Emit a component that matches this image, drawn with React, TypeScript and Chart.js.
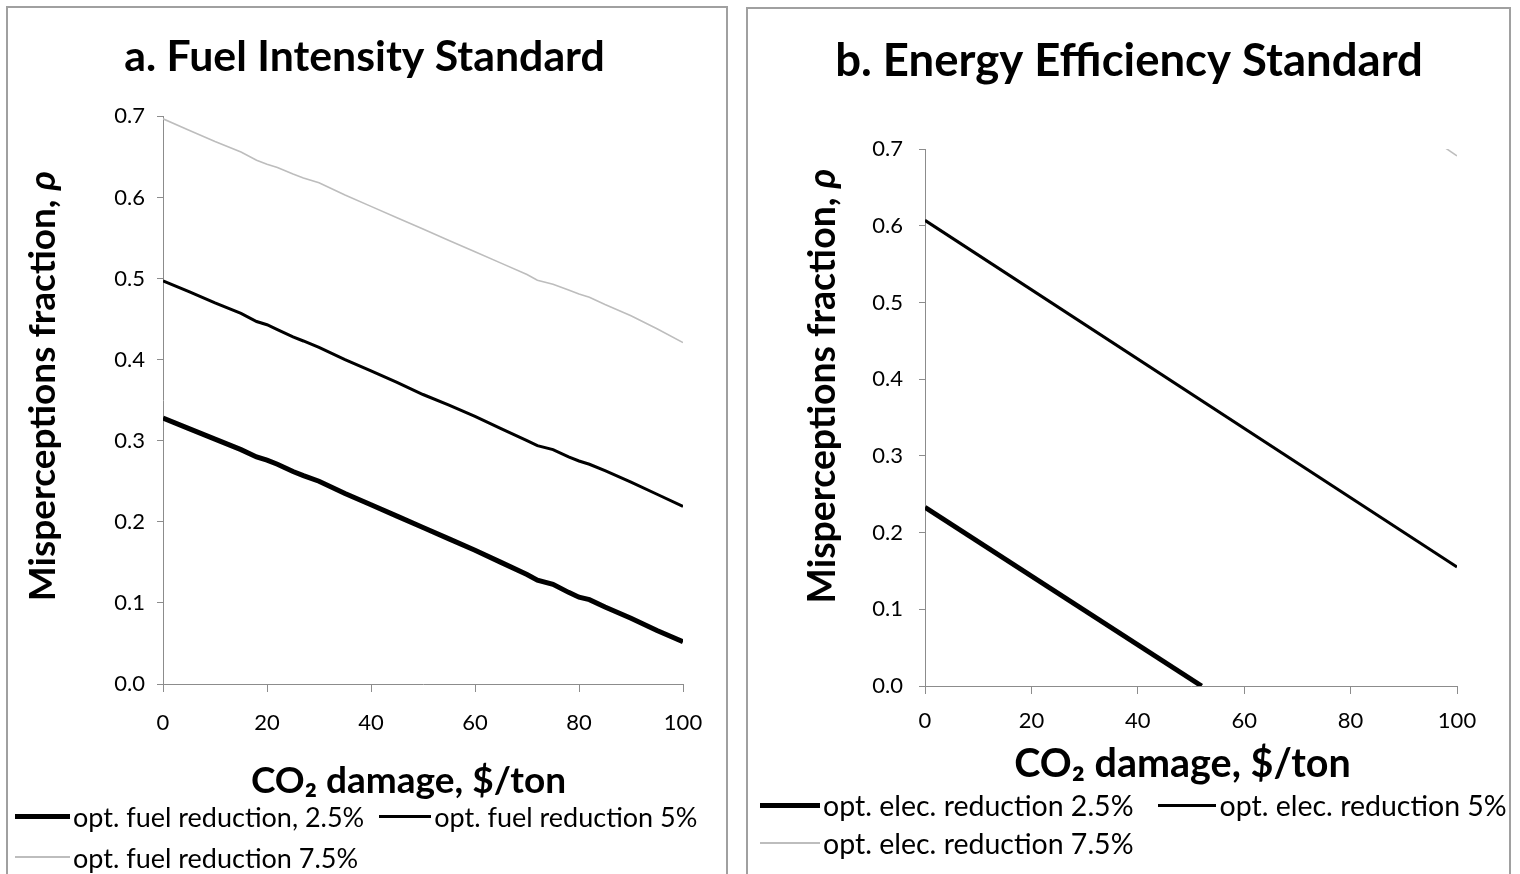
import React, { useEffect, useRef } from "react";
import { Chart, registerables } from "chart.js";
Chart.register(...registerables);

// ---- data ----
const fuelX = [0, 5, 10, 15, 18, 20, 22, 25, 27, 30, 35, 40, 45, 50, 55, 60, 65, 70, 72, 75, 78, 80, 82, 85, 90, 95, 100];
const fuel25 = [0.328, 0.315, 0.302, 0.289, 0.280, 0.276, 0.271, 0.262, 0.257, 0.250, 0.235, 0.221, 0.207, 0.193, 0.179, 0.165, 0.150, 0.135, 0.128, 0.123, 0.113, 0.107, 0.104, 0.095, 0.081, 0.066, 0.052];
const fuel5 = [0.497, 0.484, 0.470, 0.457, 0.447, 0.443, 0.437, 0.428, 0.423, 0.415, 0.400, 0.386, 0.372, 0.357, 0.344, 0.330, 0.315, 0.300, 0.294, 0.289, 0.280, 0.275, 0.271, 0.263, 0.249, 0.234, 0.219];
const fuel75 = [0.697, 0.683, 0.669, 0.656, 0.646, 0.641, 0.637, 0.629, 0.624, 0.618, 0.603, 0.589, 0.575, 0.561, 0.547, 0.533, 0.519, 0.505, 0.498, 0.493, 0.486, 0.481, 0.477, 0.468, 0.454, 0.438, 0.421];

const elecX25 = [0, 52];
const elec25 = [0.233, 0.0];
const elecX5 = [0, 100];
const elec5 = [0.607, 0.155];
const elecX75 = [96, 100];
const elec75 = [0.71, 0.691];

const fuelLabels = ["opt. fuel reduction, 2.5%", "opt. fuel reduction 5%", "opt. fuel reduction 7.5%"];
const elecLabels = ["opt. elec. reduction 2.5%", "opt. elec. reduction 5%", "opt. elec. reduction 7.5%"];
const titles = ["a. Fuel Intensity Standard", "b. Energy Efficiency Standard"];
const xTitle = "CO\u2082 damage, $/ton";
const yTitleMain = "Misperceptions fraction, ";
const yTitleSym = "\u03C1";

const FONT = "Lato, 'Liberation Sans', sans-serif";
const colors = ["#000000", "#000000", "#bdbdbd"];
const widths = [5, 3, 1.6];

function pts(xs: number[], ys: number[]) {
  return xs.map((x, i) => ({ x, y: ys[i] }));
}

type PanelCfg = {
  title: string;
  series: { x: number[]; y: number[] }[];
  width: number;
  height: number;
  padLeft: number;
  yAxisWidth: number;
  xAxisHeight: number;
  padRight: number;
  titleSize: number;
  titlePadTop: number;
  titlePadBottom: number;
  xTitleSize: number;
  yTitleSize: number;
  xTitlePos: [number, number];
  yTitlePos: [number, number];
  yTickPad: number;
  xTickPad: number;
};

function drawParts(ctx: CanvasRenderingContext2D, parts: { t: string; font: string }[], cx: number, cy: number) {
  let total = 0;
  const ws = parts.map((p) => {
    ctx.font = p.font;
    const w = ctx.measureText(p.t).width;
    total += w;
    return w;
  });
  let x = cx - total / 2;
  parts.forEach((p, i) => {
    ctx.font = p.font;
    ctx.fillText(p.t, x, cy);
    x += ws[i];
  });
}

function ChartPanel({ cfg }: { cfg: PanelCfg }) {
  const ref = useRef<HTMLCanvasElement>(null);
  useEffect(() => {
    if (!ref.current) return;
    const axisTitles = {
      id: "axisTitles",
      afterDraw(chart: any) {
        const ctx: CanvasRenderingContext2D = chart.ctx;
        ctx.save();
        ctx.fillStyle = "#000";
        ctx.textAlign = "left";
        ctx.textBaseline = "middle";
        // x-axis title
        drawParts(ctx, [{ t: xTitle, font: `bold ${cfg.xTitleSize}px ${FONT}` }], cfg.xTitlePos[0], cfg.xTitlePos[1]);
        // y-axis title (rotated)
        ctx.translate(cfg.yTitlePos[0], cfg.yTitlePos[1]);
        ctx.rotate(-Math.PI / 2);
        drawParts(
          ctx,
          [
            { t: yTitleMain, font: `bold ${cfg.yTitleSize}px ${FONT}` },
            { t: yTitleSym, font: `italic bold ${cfg.yTitleSize}px ${FONT}` },
          ],
          0,
          0
        );
        ctx.restore();
      },
    };
    const chart = new Chart(ref.current, {
      type: "line",
      data: {
        datasets: cfg.series.map((s, i) => ({
          data: pts(s.x, s.y),
          borderColor: colors[i],
          borderWidth: widths[i],
          pointRadius: 0,
          tension: 0,
          fill: false,
        })),
      },
      options: {
        animation: false,
        responsive: false,
        devicePixelRatio: 1,
        layout: { padding: { left: cfg.padLeft, right: cfg.padRight, top: 0, bottom: 0 } },
        plugins: {
          legend: { display: false },
          tooltip: { enabled: false },
          title: {
            display: true,
            text: cfg.title,
            color: "#000",
            font: { family: FONT, size: cfg.titleSize, weight: "bold", lineHeight: 1.2 },
            padding: { top: cfg.titlePadTop, bottom: cfg.titlePadBottom },
          },
        },
        scales: {
          x: {
            type: "linear",
            min: 0,
            max: 100,
            afterFit: (s: any) => {
              s.height = cfg.xAxisHeight;
            },
            ticks: {
              stepSize: 20,
              color: "#000",
              font: { family: FONT, size: 22 },
              padding: cfg.xTickPad,
              maxRotation: 0,
            },
            grid: { drawOnChartArea: false, drawTicks: true, tickLength: 8, color: "#8c8c8c" },
            border: { color: "#8c8c8c", width: 1 },
            title: { display: false },
          },
          y: {
            type: "linear",
            min: 0,
            max: 0.7,
            afterFit: (s: any) => {
              s.width = cfg.yAxisWidth;
            },
            ticks: {
              stepSize: 0.1,
              color: "#000",
              font: { family: FONT, size: 22 },
              padding: cfg.yTickPad,
              callback: (v: any) => Number(v).toFixed(1),
            },
            grid: { drawOnChartArea: false, drawTicks: true, tickLength: 6, color: "#8c8c8c" },
            border: { color: "#8c8c8c", width: 1 },
            title: { display: false },
          },
        },
      } as any,
      plugins: [axisTitles],
    });
    return () => chart.destroy();
  }, [cfg]);
  return <canvas ref={ref} width={cfg.width} height={cfg.height} style={{ width: cfg.width, height: cfg.height, display: "block" }} />;
}

function LegendItem({ label, idx, lineW, size }: { label: string; idx: number; lineW: number; size: number }) {
  return (
    <div style={{ display: "flex", alignItems: "center", whiteSpace: "nowrap" }}>
      <div style={{ width: lineW, height: Math.max(widths[idx], 1.6), background: colors[idx], marginRight: 3 }} />
      <span style={{ fontFamily: FONT, fontSize: size, color: "#000", lineHeight: 1 }}>{label}</span>
    </div>
  );
}

const leftCfg: PanelCfg = {
  title: titles[0],
  series: [
    { x: fuelX, y: fuel25 },
    { x: fuelX, y: fuel5 },
    { x: fuelX, y: fuel75 },
  ],
  width: 720,
  height: 800,
  padLeft: 38,
  yAxisWidth: 117,
  xAxisHeight: 124,
  padRight: 45,
  titleSize: 42.8,
  titlePadTop: 24,
  titlePadBottom: 33,
  xTitleSize: 37,
  yTitleSize: 37,
  xTitlePos: [400.5, 772.8],
  yTitlePos: [35, 378],
  yTickPad: 12,
  xTickPad: 18,
};

const rightCfg: PanelCfg = {
  title: titles[1],
  series: [
    { x: elecX25, y: elec25 },
    { x: elecX5, y: elec5 },
    { x: elecX75, y: elec75 },
  ],
  width: 760,
  height: 790,
  padLeft: 53,
  yAxisWidth: 124,
  xAxisHeight: 113,
  padRight: 51,
  titleSize: 45.5,
  titlePadTop: 25,
  titlePadBottom: 60.4,
  xTitleSize: 39.5,
  yTitleSize: 37.4,
  xTitlePos: [434.5, 755],
  yTitlePos: [75, 377],
  yTickPad: 16,
  xTickPad: 14,
};

export default function App() {
  const border = "2px solid #a0a0a0";
  return (
    <div style={{ position: "fixed", inset: 0, overflow: "hidden", background: "#fff" }}>
      <div style={{ position: "absolute", left: 6, top: 6, width: 722, height: 900, border, boxSizing: "border-box" }} />
      <div style={{ position: "absolute", left: 746, top: 7, width: 765, height: 900, border, boxSizing: "border-box" }} />
      <div style={{ position: "absolute", left: 8, top: 8 }}>
        <ChartPanel cfg={leftCfg} />
      </div>
      <div style={{ position: "absolute", left: 748, top: 9 }}>
        <ChartPanel cfg={rightCfg} />
      </div>
      {/* left legend */}
      <div style={{ position: "absolute", left: 15, top: 800 }}>
        <div style={{ display: "flex", gap: 15, height: 32, alignItems: "center" }}>
          <LegendItem label={fuelLabels[0]} idx={0} lineW={55} size={27} />
          <LegendItem label={fuelLabels[1]} idx={1} lineW={52} size={27} />
        </div>
        <div style={{ display: "flex", height: 50, alignItems: "center" }}>
          <LegendItem label={fuelLabels[2]} idx={2} lineW={55} size={27} />
        </div>
      </div>
      {/* right legend */}
      <div style={{ position: "absolute", left: 760, top: 789 }}>
        <div style={{ display: "flex", gap: 25, height: 32, alignItems: "center" }}>
          <LegendItem label={elecLabels[0]} idx={0} lineW={60} size={28.5} />
          <LegendItem label={elecLabels[1]} idx={1} lineW={58} size={28.5} />
        </div>
        <div style={{ display: "flex", height: 44, alignItems: "center" }}>
          <LegendItem label={elecLabels[2]} idx={2} lineW={60} size={28.5} />
        </div>
      </div>
    </div>
  );
}
